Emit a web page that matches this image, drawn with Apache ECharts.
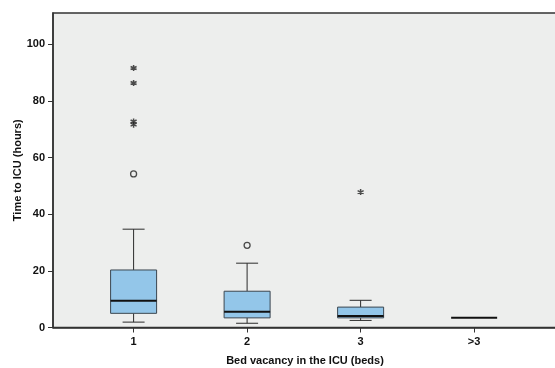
<!DOCTYPE html>
<html><head><meta charset="utf-8">
<script src="https://cdn.jsdelivr.net/npm/echarts@6/dist/echarts.min.js"></script>
<style>html,body{margin:0;padding:0;background:#fff}#c{width:555px;height:368px}</style>
</head><body><div id="c"></div>
<script>
// Categories (bed vacancy) and tick labels
const categories = ['1', '2', '3', '>3'];
// Box stats per category: [low whisker, Q1, median, Q3, high whisker]
const lowWhisker = [1.9, 1.5, 2.5, 3.4];
const q1 = [5.0, 3.4, 3.4, 3.4];
const median = [9.4, 5.6, 4.1, 3.4];
const q3 = [20.3, 12.8, 7.2, 3.4];
const highWhisker = [34.7, 22.7, 9.6, 3.4];
// Outliers: [category index (1-based), value]
const circleOutliers = [[1, 54.2], [2, 29.0]];
const starOutliers = [[1, 91.6], [1, 86.3], [1, 72.7], [1, 71.6], [3, 47.8]];
const yTicks = [0, 20, 40, 60, 80, 100];

const boxData = categories.map((c, i) => [i + 1, lowWhisker[i], q1[i], median[i], q3[i], highWhisker[i]]);
const xTickValues = categories.map((c, i) => i + 1);

const FONT = '"Liberation Sans", Arial, sans-serif';
const BOX_W = 46, CAP_W = 22;
const lineCol = '#2b2b2b';

const chart = echarts.init(document.getElementById('c'), null, {renderer: 'canvas'});
chart.setOption({
  animation: false,
  backgroundColor: '#ffffff',
  grid: {left: 53, right: -2, top: 13, bottom: 40.5, outerBoundsMode: 'none', containLabel: false,
    show: true, backgroundColor: '#edeeed', borderColor: '#333', borderWidth: 1.5},
  xAxis: {
    type: 'value', min: 0.29, max: 4.73,
    name: 'Bed vacancy in the ICU (beds)', nameLocation: 'middle', nameGap: 28, nameMoveOverlap: false,
    nameTextStyle: {fontFamily: FONT, fontWeight: 'bold', fontSize: 11, color: '#111'},
    axisLine: {show: true, lineStyle: {color: '#333', width: 1.5}},
    axisTick: {show: true, length: 5, customValues: xTickValues, lineStyle: {color: '#333'}},
    axisLabel: {fontFamily: FONT, fontWeight: 'bold', fontSize: 11, color: '#111', margin: 9,
      customValues: xTickValues,
      formatter: v => categories[Math.round(v) - 1]},
    splitLine: {show: false}
  },
  yAxis: {
    type: 'value', min: 0, max: 111,
    name: 'Time to ICU (hours)', nameLocation: 'middle', nameGap: 30, nameMoveOverlap: false,
    nameTextStyle: {fontFamily: FONT, fontWeight: 'bold', fontSize: 11, color: '#111'},
    axisLine: {show: true, lineStyle: {color: '#333', width: 1.5}},
    axisTick: {show: true, length: 5, customValues: yTicks, lineStyle: {color: '#333'}},
    axisLabel: {fontFamily: FONT, fontWeight: 'bold', fontSize: 11, color: '#111', margin: 8,
      customValues: yTicks},
    splitLine: {show: false}
  },
  series: [
    {
      type: 'custom',
      data: boxData,
      renderItem: function (params, api) {
        const x = api.value(0);
        const pLow = api.coord([x, api.value(1)]);
        const pQ1 = api.coord([x, api.value(2)]);
        const pMed = api.coord([x, api.value(3)]);
        const pQ3 = api.coord([x, api.value(4)]);
        const pHigh = api.coord([x, api.value(5)]);
        const cx = pMed[0];
        const children = [];
        const collapsed = api.value(1) === api.value(5);
        if (!collapsed) {
          children.push({type: 'line', shape: {x1: cx, y1: pQ3[1], x2: cx, y2: pHigh[1]}, style: {stroke: lineCol, lineWidth: 1}});
          children.push({type: 'line', shape: {x1: cx, y1: pQ1[1], x2: cx, y2: pLow[1]}, style: {stroke: lineCol, lineWidth: 1}});
          children.push({type: 'line', shape: {x1: cx - CAP_W / 2, y1: pHigh[1], x2: cx + CAP_W / 2, y2: pHigh[1]}, style: {stroke: lineCol, lineWidth: 1}});
          children.push({type: 'line', shape: {x1: cx - CAP_W / 2, y1: pLow[1], x2: cx + CAP_W / 2, y2: pLow[1]}, style: {stroke: lineCol, lineWidth: 1}});
          children.push({type: 'rect', shape: {x: cx - BOX_W / 2, y: pQ3[1], width: BOX_W, height: pQ1[1] - pQ3[1]}, style: {fill: '#93c6e9', stroke: '#3b4650', lineWidth: 1}});
        }
        children.push({type: 'line', shape: {x1: cx - BOX_W / 2, y1: pMed[1], x2: cx + BOX_W / 2, y2: pMed[1]}, style: {stroke: '#111', lineWidth: 2}});
        return {type: 'group', children: children};
      },
      z: 2
    },
    {
      type: 'scatter', data: circleOutliers, symbol: 'circle', symbolSize: 6,
      itemStyle: {color: 'rgba(0,0,0,0)', borderColor: '#222', borderWidth: 1.3}, z: 3
    },
    {
      type: 'scatter', data: starOutliers,
      symbol: 'path://M5,0 L5,10 M0.7,2.5 L9.3,7.5 M0.7,7.5 L9.3,2.5', symbolSize: 6,
      itemStyle: {color: 'rgba(0,0,0,0)', borderColor: '#222', borderWidth: 1.5}, z: 3
    }
  ]
});
</script></body></html>
